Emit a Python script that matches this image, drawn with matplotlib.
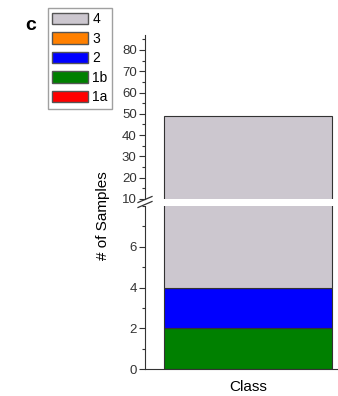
#stacked bar of sample counts per class with a broken y axis

import matplotlib.pyplot as plt
from matplotlib.patches import Patch
from matplotlib.lines import Line2D
from matplotlib.ticker import MultipleLocator

plt.rcParams['font.family'] = ['Liberation Sans', 'DejaVu Sans']

categories = ['Class']
classes = ['1a', '1b', '2', '3', '4']
counts = [0, 2, 2, 0, 45]
colors = ['#ff0000', '#008000', '#0000ff', '#ff8000', '#ccc7cf']

W, H = 338, 396
fig = plt.figure(figsize=(W / 100, H / 100), dpi=100)

def box(x0, y0, x1, y1):
    #pixel box (top-left origin) -> figure fraction rect
    return [x0 / W, 1 - y1 / H, (x1 - x0) / W, (y1 - y0) / H]

ax_lo = fig.add_axes(box(145, 206, 338, 369))
ax_hi = fig.add_axes(box(145, 35, 338, 199))

for ax in (ax_lo, ax_hi):
    bottom = 0
    for c, v, col in zip(classes, counts, colors):
        ax.bar(categories, [v], bottom=bottom, width=0.8, color=col,
               edgecolor='#333333', linewidth=0.8)
        bottom += v
    ax.set_xlim(-0.49, 0.43)
    for s in ['top', 'right']:
        ax.spines[s].set_visible(False)
    ax.spines['left'].set_color('#333333')
    ax.tick_params(axis='y', direction='out', length=4, width=0.8,
                   labelsize=9.5, pad=2, colors='#333333')
    ax.tick_params(axis='y', which='minor', length=2, width=0.8, colors='#333333')

ax_lo.set_ylim(0, 8)
ax_lo.set_yticks([0, 2, 4, 6])
ax_lo.yaxis.set_minor_locator(MultipleLocator(1))
ax_lo.tick_params(axis='x', length=0, labelsize=11, pad=8)
ax_lo.spines['bottom'].set_color('#333333')

ax_hi.set_ylim(10, 87)
ax_hi.set_yticks([10, 20, 30, 40, 50, 60, 70, 80])
ax_hi.yaxis.set_minor_locator(MultipleLocator(5))
ax_hi.spines['bottom'].set_visible(False)
ax_hi.set_xticks([])

#break marks on the axis
x0 = 145 / W
for yp in (199.5, 204.5):
    y = 1 - yp / H
    fig.add_artist(Line2D([x0 - 7 / W, x0 + 7 / W], [y - 3 / H, y + 3 / H],
                          color='#333333', lw=0.9))

fig.text(103 / W, 1 - 216 / H, '# of Samples', rotation=90, ha='center',
         va='center', fontsize=11)
fig.text(31 / W, 1 - 25 / H, 'c', fontsize=14, fontweight='bold',
         ha='center', va='center')

handles = [Patch(facecolor=col, edgecolor='#555555', label=c)
           for c, col in zip(classes[::-1], colors[::-1])]
fig.legend(handles=handles, loc='upper left', bbox_to_anchor=(48 / W, 1 - 8 / H),
           fontsize=10, frameon=True, fancybox=False, edgecolor='#888888',
           handlelength=2.6, handleheight=0.9, handletextpad=0.3,
           labelspacing=0.4, borderpad=0.3, borderaxespad=0)

fig.savefig('out.png', dpi=100)
